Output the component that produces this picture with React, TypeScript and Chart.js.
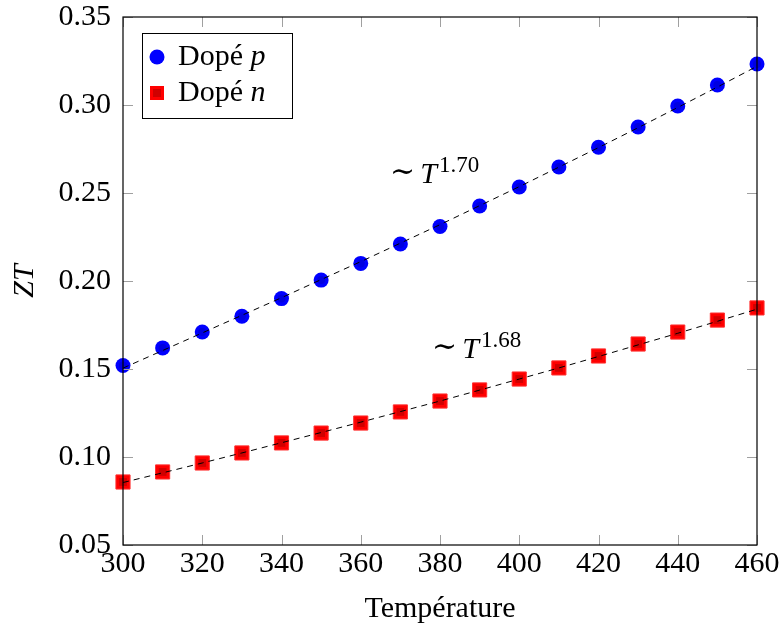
import React, { useEffect, useRef } from "react";
import { Chart, registerables } from "chart.js";

Chart.register(...registerables);

const temperatures = [300, 310, 320, 330, 340, 350, 360, 370, 380, 390, 400, 410, 420, 430, 440, 450, 460];
const ztP = [0.152, 0.162, 0.171, 0.180, 0.190, 0.2005, 0.210, 0.221, 0.231, 0.2426, 0.2534, 0.2648, 0.276, 0.2875, 0.2994, 0.3114, 0.3233];
const ztN = [0.0858, 0.0915, 0.0966, 0.1023, 0.108, 0.1136, 0.1193, 0.1256, 0.1318, 0.1381, 0.1443, 0.1506, 0.1574, 0.1642, 0.171, 0.1778, 0.1847];
const fitP = [0.1505, 0.1605, 0.1705, 0.1805, 0.1905, 0.2008, 0.211, 0.2215, 0.232, 0.2428, 0.2536, 0.2647, 0.2758, 0.2871, 0.2986, 0.3102, 0.322];
const fitN = [0.0855, 0.091, 0.0966, 0.1023, 0.1081, 0.1139, 0.1198, 0.1258, 0.1318, 0.138, 0.1443, 0.1506, 0.1571, 0.1637, 0.1703, 0.1771, 0.184];
const xTicks = [300, 320, 340, 360, 380, 400, 420, 440, 460];
const yTicks = [0.05, 0.1, 0.15, 0.2, 0.25, 0.3, 0.35];
const legendLabels = ["Dopé", "Dopé"];
const legendVars = ["p", "n"];
const fitExponents = ["1.70", "1.68"];
const fitLabelPos = [
  { x: 367.4, y: 0.2557 },
  { x: 378.0, y: 0.1562 },
];

const SERIF = "'Liberation Serif', 'DejaVu Serif', serif";
const BLUE = "#0000ff";
const RED = "#ff0000";

const pts = (ys: number[]) => temperatures.map((t, i) => ({ x: t, y: ys[i] }));

const decorPlugin = {
  id: "decor",
  afterDatasetsDraw(chart: any) {
    const { ctx, chartArea: a, scales } = chart;
    const xs = scales.x;
    const ys = scales.y;
    ctx.save();
    // inner tick marks
    ctx.strokeStyle = "#a0a0a0";
    ctx.lineWidth = 1;
    const tl = 10;
    ctx.beginPath();
    xTicks.forEach((t) => {
      const px = Math.round(xs.getPixelForValue(t)) + 0.5;
      ctx.moveTo(px, a.bottom);
      ctx.lineTo(px, a.bottom - tl);
      ctx.moveTo(px, a.top);
      ctx.lineTo(px, a.top + tl);
    });
    yTicks.forEach((t) => {
      const py = Math.round(ys.getPixelForValue(t)) + 0.5;
      ctx.moveTo(a.left, py);
      ctx.lineTo(a.left + tl, py);
      ctx.moveTo(a.right, py);
      ctx.lineTo(a.right - tl, py);
    });
    ctx.stroke();
    // frame
    ctx.strokeStyle = "#000";
    ctx.lineWidth = 1.2;
    ctx.strokeRect(a.left, a.top, a.right - a.left, a.bottom - a.top);

    // fit annotations
    fitLabelPos.forEach((p, i) => {
      let x = xs.getPixelForValue(p.x);
      const y = ys.getPixelForValue(p.y);
      ctx.fillStyle = "#000";
      ctx.textBaseline = "alphabetic";
      ctx.textAlign = "left";
      ctx.font = `30px ${SERIF}`;
      ctx.fillText("∼", x, y - 2);
      x += ctx.measureText("∼").width + 5;
      ctx.font = `italic 30px ${SERIF}`;
      ctx.fillText("T", x, y);
      x += ctx.measureText("T").width + 2;
      ctx.font = `23px ${SERIF}`;
      ctx.fillText(fitExponents[i], x, y - 11);
    });
    ctx.restore();
  },
  afterDraw(chart: any) {
    const { ctx, chartArea: a, scales } = chart;
    ctx.save();
    // x tick labels
    ctx.fillStyle = "#000";
    ctx.font = `30px ${SERIF}`;
    ctx.textAlign = "center";
    ctx.textBaseline = "middle";
    xTicks.forEach((t) => {
      ctx.fillText(String(t), scales.x.getPixelForValue(t), a.bottom + 19);
    });
    // legend
    const lx = a.left + 19;
    const ly = a.top + 16;
    const lw = 150;
    const lh = 85;
    ctx.fillStyle = "#fff";
    ctx.fillRect(lx, ly, lw, lh);
    ctx.strokeStyle = "#000";
    ctx.lineWidth = 1;
    ctx.strokeRect(lx + 0.5, ly + 0.5, lw, lh);
    const rows = [ly + 24, ly + 60];
    ctx.fillStyle = BLUE;
    ctx.beginPath();
    ctx.arc(lx + 15, rows[0], 7.5, 0, Math.PI * 2);
    ctx.fill();
    ctx.fillStyle = RED;
    ctx.fillRect(lx + 8, rows[1] - 7, 14, 14);
    ctx.fillStyle = "#d00000";
    ctx.fillRect(lx + 11, rows[1] - 4, 8, 8);
    ctx.fillStyle = "#000";
    ctx.textBaseline = "middle";
    ctx.textAlign = "left";
    rows.forEach((ry, i) => {
      let tx = lx + 36;
      ctx.font = `30px ${SERIF}`;
      ctx.fillText(legendLabels[i] + " ", tx, ry);
      tx += ctx.measureText(legendLabels[i] + " ").width;
      ctx.font = `italic 30px ${SERIF}`;
      ctx.fillText(legendVars[i], tx, ry);
    });
    // axis titles
    ctx.font = `30px ${SERIF}`;
    ctx.textAlign = "center";
    ctx.textBaseline = "middle";
    ctx.fillText("Température", (a.left + a.right) / 2, 609);
    ctx.save();
    ctx.translate(25, (a.top + a.bottom) / 2);
    ctx.rotate(-Math.PI / 2);
    ctx.font = `italic 30px ${SERIF}`;
    ctx.fillText("ZT", 0, 0);
    ctx.restore();
    ctx.restore();
  },
};

export default function App() {
  const ref = useRef<HTMLCanvasElement | null>(null);
  useEffect(() => {
    if (!ref.current) return;
    const chart = new Chart(ref.current, {
      type: "line",
      data: {
        datasets: [
          {
            data: pts(ztP),
            showLine: false,
            pointStyle: "circle",
            pointRadius: 7.5,
            pointBackgroundColor: BLUE,
            pointBorderColor: BLUE,
            pointBorderWidth: 0,
            clip: false,
            order: 5,
          } as any,
          {
            data: pts(ztP),
            showLine: false,
            pointStyle: "circle",
            pointRadius: 4,
            pointBackgroundColor: "#0000e0",
            pointBorderWidth: 0,
            clip: false,
            order: 4,
          } as any,
          {
            data: pts(ztN),
            showLine: false,
            pointStyle: "rect",
            pointRadius: 10,
            pointBackgroundColor: RED,
            pointBorderColor: "#ff3030",
            pointBorderWidth: 1,
            clip: false,
            order: 5,
          } as any,
          {
            data: pts(ztN),
            showLine: false,
            pointStyle: "rect",
            pointRadius: 5.5,
            pointBackgroundColor: "#d00000",
            pointBorderWidth: 0,
            clip: false,
            order: 4,
          } as any,
          {
            data: pts(fitP),
            borderColor: "#000",
            borderWidth: 1,
            borderDash: [6, 5],
            pointRadius: 0,
            fill: false,
            order: 1,
          },
          {
            data: pts(fitN),
            borderColor: "#000",
            borderWidth: 1,
            borderDash: [6, 5],
            pointRadius: 0,
            fill: false,
            order: 1,
          },
        ],
      },
      options: {
        responsive: false,
        animation: false,
        layout: { padding: { top: 17, right: 25, left: 0, bottom: 0 } },
        plugins: { legend: { display: false }, tooltip: { enabled: false } },
        scales: {
          x: {
            type: "linear",
            min: 300,
            max: 460,
            afterBuildTicks: (s: any) => {
              s.ticks = xTicks.map((v) => ({ value: v }));
            },
            afterFit: (s: any) => {
              s.height = 85;
              s.paddingLeft = 0;
              s.paddingRight = 0;
            },
            grid: { display: false, drawTicks: false },
            border: { display: false },
            ticks: { display: false },
          },
          y: {
            type: "linear",
            min: 0.05,
            max: 0.35,
            afterBuildTicks: (s: any) => {
              s.ticks = yTicks.map((v) => ({ value: v }));
            },
            afterFit: (s: any) => {
              s.width = 123;
              s.paddingTop = 0;
              s.paddingBottom = 0;
            },
            grid: { display: false, drawTicks: false },
            border: { display: false },
            ticks: {
              font: { family: SERIF, size: 30 },
              color: "#000",
              padding: 12,
              autoSkip: false,
              callback: (v: any) => Number(v).toFixed(2),
            },
          },
        },
      },
      plugins: [decorPlugin],
    });
    return () => chart.destroy();
  }, []);
  return (
    <canvas
      ref={ref}
      width={782}
      height={630}
      style={{ display: "block", position: "absolute", left: 0, top: 0 }}
    />
  );
}
